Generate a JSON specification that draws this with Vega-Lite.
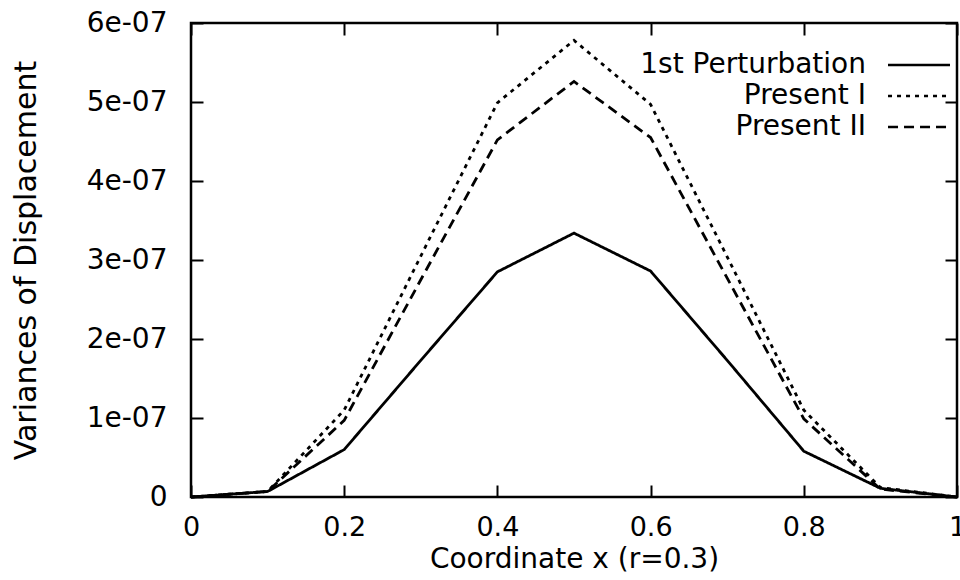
{
  "$schema": "https://vega.github.io/schema/vega-lite/v6.json",
  "width": 766,
  "height": 474,
  "autosize": {"type": "none"},
  "padding": {"left": 191, "top": 23, "right": 3, "bottom": 83},
  "background": "white",
  "config": {
    "font": "DejaVu Sans",
    "view": {"stroke": "black", "strokeWidth": 2.5},
    "axis": {
      "grid": false,
      "domain": false,
      "tickColor": "black",
      "tickWidth": 2,
      "labelColor": "black",
      "titleColor": "black",
      "labelFont": "DejaVu Sans",
      "titleFont": "DejaVu Sans",
      "labelFontSize": 28,
      "titleFontSize": 28,
      "titleFontWeight": "normal"
    }
  },
  "data": {
    "values": [
      {"x": 0.0, "v": 0.0, "s": "1st Perturbation"},
      {"x": 0.1, "v": 0.07e-7, "s": "1st Perturbation"},
      {"x": 0.2, "v": 0.6e-7, "s": "1st Perturbation"},
      {"x": 0.3, "v": 1.73e-7, "s": "1st Perturbation"},
      {"x": 0.4, "v": 2.85e-7, "s": "1st Perturbation"},
      {"x": 0.5, "v": 3.34e-7, "s": "1st Perturbation"},
      {"x": 0.6, "v": 2.86e-7, "s": "1st Perturbation"},
      {"x": 0.7, "v": 1.73e-7, "s": "1st Perturbation"},
      {"x": 0.8, "v": 0.58e-7, "s": "1st Perturbation"},
      {"x": 0.9, "v": 0.11e-7, "s": "1st Perturbation"},
      {"x": 1.0, "v": 0.0, "s": "1st Perturbation"},
      {"x": 0.0, "v": 0.0, "s": "Present I"},
      {"x": 0.1, "v": 0.07e-7, "s": "Present I"},
      {"x": 0.2, "v": 1.1e-7, "s": "Present I"},
      {"x": 0.3, "v": 3.05e-7, "s": "Present I"},
      {"x": 0.4, "v": 4.99e-7, "s": "Present I"},
      {"x": 0.5, "v": 5.78e-7, "s": "Present I"},
      {"x": 0.6, "v": 4.97e-7, "s": "Present I"},
      {"x": 0.7, "v": 3.04e-7, "s": "Present I"},
      {"x": 0.8, "v": 1.1e-7, "s": "Present I"},
      {"x": 0.9, "v": 0.12e-7, "s": "Present I"},
      {"x": 1.0, "v": 0.0, "s": "Present I"},
      {"x": 0.0, "v": 0.0, "s": "Present II"},
      {"x": 0.1, "v": 0.07e-7, "s": "Present II"},
      {"x": 0.2, "v": 0.97e-7, "s": "Present II"},
      {"x": 0.3, "v": 2.75e-7, "s": "Present II"},
      {"x": 0.4, "v": 4.52e-7, "s": "Present II"},
      {"x": 0.5, "v": 5.26e-7, "s": "Present II"},
      {"x": 0.6, "v": 4.55e-7, "s": "Present II"},
      {"x": 0.7, "v": 2.77e-7, "s": "Present II"},
      {"x": 0.8, "v": 0.99e-7, "s": "Present II"},
      {"x": 0.9, "v": 0.1e-7, "s": "Present II"},
      {"x": 1.0, "v": 0.0, "s": "Present II"}
    ]
  },
  "layer": [
    {
      "mark": {"type": "line", "color": "black", "strokeWidth": 2.8},
      "encoding": {
        "x": {
          "field": "x", "type": "quantitative",
          "scale": {"domain": [0, 1], "nice": false, "zero": false},
          "axis": {"orient": "bottom", "values": [0, 0.2, 0.4, 0.6, 0.8, 1], "format": "~g", "tickSize": -12, "labelFontSize": 27, "labelPadding": 29, "title": "Coordinate x (r=0.3)", "titlePadding": 5, "labelFlush": false}
        },
        "y": {
          "field": "v", "type": "quantitative",
          "scale": {"domain": [0, 6e-7], "nice": false},
          "axis": {"orient": "left", "values": [0, 1e-7, 2e-7, 3e-7, 4e-7, 5e-7, 6e-7], "labelExpr": "datum.value == 0 ? '0' : format(round(datum.value * 1e7), 'd') + 'e-07'", "tickSize": -12, "labelPadding": 36, "title": "Variances of Displacement", "titleFontSize": 30, "titlePadding": 45}
        },
        "strokeDash": {
          "field": "s", "type": "nominal",
          "scale": {"domain": ["1st Perturbation", "Present I", "Present II"], "range": [[1, 0], [4, 5], [10, 6]]},
          "legend": {
            "title": null,
            "orient": "none",
            "legendX": 714,
            "legendY": 28,
            "symbolType": "M-4,0H4",
            "symbolSize": 240,
            "symbolStrokeWidth": 2.5,
            "symbolStrokeColor": "black",
            "labelAlign": "right",
            "labelOffset": -67,
            "labelFontSize": 28,
            "labelFont": "DejaVu Sans",
            "labelColor": "black",
            "rowPadding": 3,
            "labelLimit": 400
          }
        }
      }
    },
    {
      "mark": {"type": "line", "strokeOpacity": 0},
      "encoding": {
        "x": {"field": "x", "type": "quantitative", "axis": {"orient": "top", "values": [0, 0.2, 0.4, 0.6, 0.8, 1], "labels": false, "title": null, "tickSize": -12}},
        "y": {"field": "v", "type": "quantitative", "axis": {"orient": "right", "values": [0, 1e-7, 2e-7, 3e-7, 4e-7, 5e-7, 6e-7], "labels": false, "title": null, "tickSize": -12}},
        "detail": {"field": "s"}
      }
    }
  ],
  "resolve": {"axis": {"x": "independent", "y": "independent"}}
}
